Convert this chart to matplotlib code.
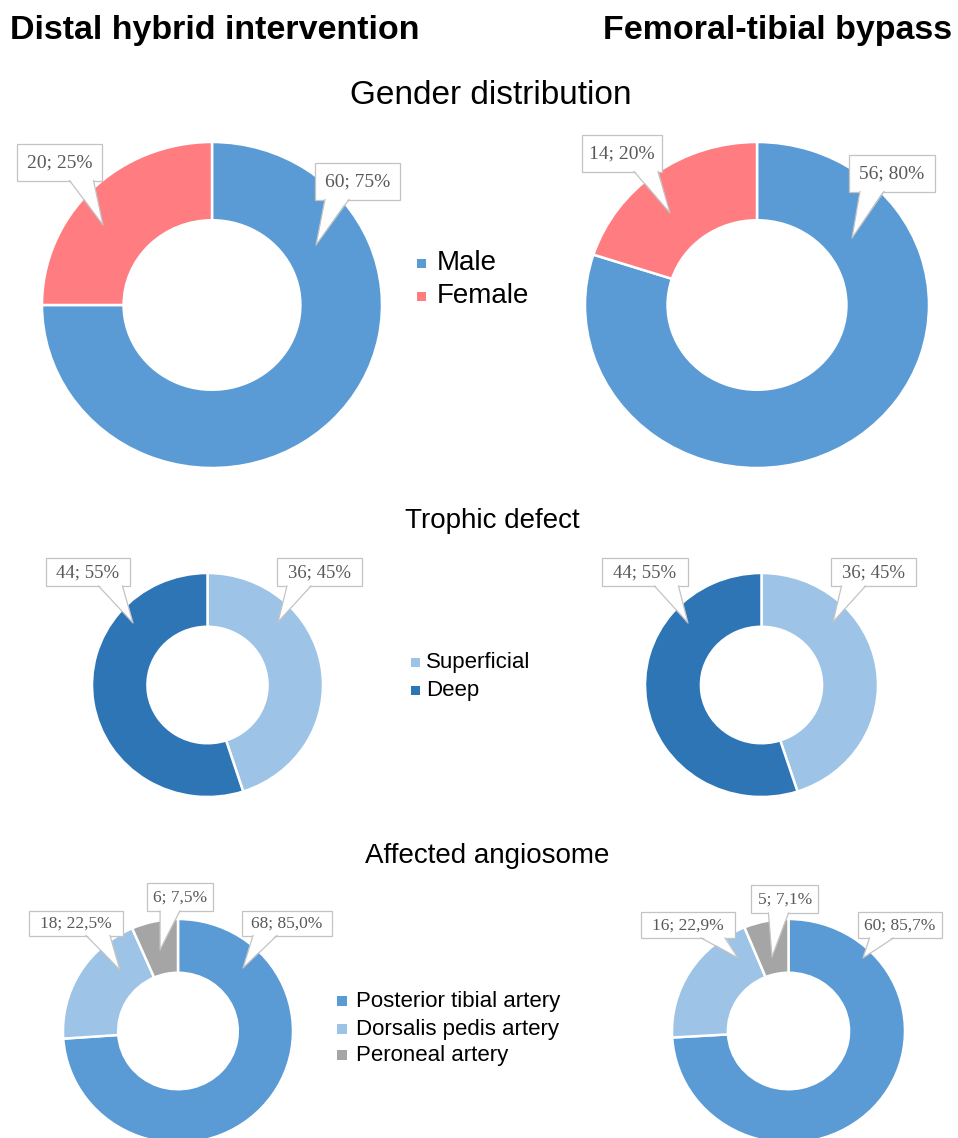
import matplotlib
matplotlib.use('Agg')
import matplotlib.pyplot as plt
from matplotlib.patches import Rectangle, Polygon

W, H = 958, 1138

# patient groups
groups = ['Distal hybrid intervention', 'Femoral-tibial bypass']
group_n = [80, 70]

gender_labels = ['Male', 'Female']
gender_counts = [[60, 20], [56, 14]]

trophic_labels = ['Superficial', 'Deep']
trophic_counts = [[36, 44], [36, 44]]

angio_labels = ['Posterior tibial artery', 'Dorsalis pedis artery', 'Peroneal artery']
angio_counts = [[68, 18, 6], [60, 16, 5]]

gender_colors = ['#5B9BD5', '#FF7C80']
trophic_colors = ['#9DC3E6', '#2E75B6']
angio_colors = ['#5B9BD5', '#9DC3E6', '#A5A5A5']

SANS = 'Liberation Sans'
SERIF = 'Liberation Serif'
BORDER = '#c3c3c3'

fig = plt.figure(figsize=(W / 100, H / 100), dpi=100)
fig.patch.set_facecolor('white')


def donut(cx, cy, rx, ry, counts, colors):
    # axes placed in pixel units, y measured from the top
    ax = fig.add_axes([(cx - rx) / W, 1 - (cy + ry) / H, 2 * rx / W, 2 * ry / H])
    ax.pie(counts, colors=colors, startangle=90, counterclock=False, radius=1,
           wedgeprops=dict(width=0.48, edgecolor='white', linewidth=1.8))
    ax.set_aspect('auto')
    ax.set_xlim(-1, 1)
    ax.set_ylim(-1, 1)
    ax.axis('off')
    return ax


# gender
donut(212, 305, 170, 163, gender_counts[0], gender_colors)
donut(757, 305, 172, 163, gender_counts[1], gender_colors)
# trophic defect
donut(207.5, 685, 115.5, 112, trophic_counts[0], trophic_colors)
donut(761.5, 685, 116.5, 112, trophic_counts[1], trophic_colors)
# affected angiosome
donut(178, 1031, 115, 112, angio_counts[0], angio_colors)
donut(788.5, 1031, 116.5, 112, angio_counts[1], angio_colors)

# overlay in pixel coordinates for titles, legends and callouts
top = fig.add_axes([0, 0, 1, 1], zorder=5)
top.set_xlim(0, W)
top.set_ylim(H, 0)
top.axis('off')


def callout(text, bx, by, bw, bh, tx, ty, fs):
    half = min(12, bw * 0.15)
    base = bx + 0.5 * (tx - bx)
    base = max(bx - bw / 2 + half + 2, min(bx + bw / 2 - half - 2, base))
    yb = by + bh / 2
    top.add_patch(Rectangle((bx - bw / 2, by - bh / 2), bw, bh,
                            fc='white', ec=BORDER, lw=0.9, zorder=3))
    top.add_patch(Polygon([(base - half, yb - 1.5), (tx, ty), (base + half, yb - 1.5)],
                          closed=True, fc='white', ec='none', zorder=4))
    top.plot([base - half, tx, base + half], [yb, ty, yb], color=BORDER, lw=0.9, zorder=5)
    top.text(bx, by + 0.5, text, ha='center', va='center', fontsize=fs,
             family=SERIF, color='#595959', zorder=6)


def int_label(n, total):
    return f'{n}; {round(n / total * 100)}%'


def dec_label(n, total):
    return f'{n}; {n / total * 100:.1f}%'.replace('.', ',')


# gender callouts
g0, g1 = gender_counts
callout(int_label(g0[1], sum(g0)), 60, 162, 85, 37, 103, 225, 14)
callout(int_label(g0[0], sum(g0)), 358, 181, 85, 37, 316, 245, 14)
callout(int_label(g1[1], sum(g1)), 622, 153, 80, 37, 670, 213, 14)
callout(int_label(g1[0], sum(g1)), 892, 173, 86, 37, 852, 238, 14)

# trophic callouts
t0, t1 = trophic_counts
callout(int_label(t0[1], sum(t0)), 88, 572, 84, 28, 133, 623, 13.5)
callout(int_label(t0[0], sum(t0)), 320, 572, 85, 28, 278, 622, 13.5)
callout(int_label(t1[1], sum(t1)), 645, 572, 86, 28, 688, 623, 13.5)
callout(int_label(t1[0], sum(t1)), 874, 572, 85, 28, 833, 622, 13.5)

# angiosome callouts (a patient may have several affected angiosomes)
a0, a1 = angio_counts
callout(dec_label(a0[1], group_n[0]), 76, 923, 94, 25, 120, 970, 12.5)
callout(dec_label(a0[2], group_n[0]), 180, 897, 66, 28, 160, 950, 12.5)
callout(dec_label(a0[0], group_n[0]), 287, 923, 90, 25, 243, 968, 12.5)
callout(dec_label(a1[1], group_n[1]), 688, 925, 94, 26, 738, 958, 12.5)
callout(dec_label(a1[2], group_n[1]), 785, 899, 67, 28, 772, 957, 12.5)
callout(dec_label(a1[0], group_n[1]), 900, 925, 84, 26, 863, 958, 12.5)

# headings
top.text(10, 39, groups[0], ha='left', va='baseline', fontsize=24.5,
         fontweight='bold', family=SANS, color='black')
top.text(952, 39, groups[1], ha='right', va='baseline', fontsize=24.5,
         fontweight='bold', family=SANS, color='black')
top.text(491, 104, 'Gender distribution', ha='center', va='baseline',
         fontsize=24, family=SANS, color='black')
top.text(492, 528, 'Trophic defect', ha='center', va='baseline',
         fontsize=20, family=SANS, color='black')
top.text(487, 863, 'Affected angiosome', ha='center', va='baseline',
         fontsize=20, family=SANS, color='black')


def legend(labels, colors, mx, tx, ys, size, fs):
    for lab, col, y in zip(labels, colors, ys):
        top.add_patch(Rectangle((mx - size / 2, y - size / 2), size, size,
                                fc=col, ec='none'))
        top.text(tx, y, lab, ha='left', va='center', fontsize=fs,
                 family=SANS, color='black')


legend(gender_labels, gender_colors, 422, 437, [263, 296], 9, 20)
legend(trophic_labels, trophic_colors, 416, 426, [662, 690], 9, 16)
legend(angio_labels, angio_colors, 342, 356, [1001, 1029, 1055], 10, 16)

fig.savefig('out.png', dpi=100, facecolor='white')
